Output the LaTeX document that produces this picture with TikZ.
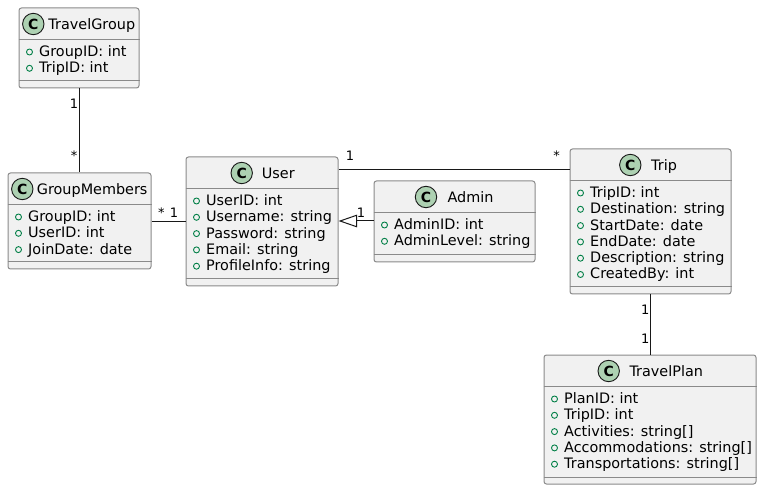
\documentclass[tikz,border=0pt]{standalone}
\usepackage{fontspec}
\setmainfont{DejaVu Sans}
\usetikzlibrary{arrows.meta}
\definecolor{boxfill}{HTML}{F1F1F1}
\definecolor{boxline}{HTML}{8A8A8A}
\definecolor{linecol}{HTML}{181818}
\definecolor{iconfill}{HTML}{ADD1B2}
\definecolor{markcol}{HTML}{038048}
\tikzset{
  clsbox/.style={draw=boxline, fill=boxfill, line width=1pt, rounded corners=2.5pt, inner sep=0pt},
  sepline/.style={draw=boxline, line width=1pt},
  cicon/.style={circle, draw=linecol, fill=iconfill, line width=0.9pt, minimum size=21.4pt, inner sep=0pt, font=\bfseries\fontsize{14}{14}\selectfont},
  clsname/.style={anchor=base west, inner sep=0pt, font=\fontsize{14.4}{16}\selectfont},
  attr/.style={anchor=base west, inner sep=0pt, font=\fontsize{14.4}{16}\selectfont},
  marker/.style={draw=markcol, line width=0.9pt},
  conn/.style={draw=linecol, line width=1pt},
  mult/.style={inner sep=0pt, font=\fontsize{13}{13}\selectfont},
}
% id, left, top, right, bottom, icon x, name left, name, attributes
\newcommand\umlclass[9]{%
  \node[clsbox, anchor=north west, minimum width={#4pt-#2pt}, minimum height={#5pt-#3pt}] (#1) at (#2,#3) {};
  \draw[sepline] ([yshift=-32pt]#1.north west) -- ([yshift=-32pt]#1.north east);
  \draw[sepline] ([yshift=7.5pt]#1.south west) -- ([yshift=7.5pt]#1.south east);
  \node[cicon] (#1-icon) at (#6,{#3+16.5}) {C};
  \node[clsname] (#1-name) at (#7,{#3+22}) {#8};
  \foreach \a [count=\i] in {#9} {%
    \node[attr] (#1-a\i) at ({#2+20.5},{#3+49+16.3*(\i-1)}) {\a};
    \draw[marker] ({#2+11},{#3+44.5+16.3*(\i-1)}) circle (3pt);
  }%
}
\begin{document}
\begin{tikzpicture}[x=1pt, y=-1pt]
\useasboundingbox (0,0) rectangle (761,489);
\umlclass{tg}{18.5}{7.5}{138.5}{87.5}{33.3}{48.3}{TravelGroup}{GroupID: int,TripID: int}
\umlclass{gm}{7.5}{172.5}{150.5}{268.5}{22.3}{36.7}{GroupMembers}{GroupID: int,UserID: int,JoinDate: date}
\umlclass{user}{185.5}{156.5}{337.5}{285.5}{241.7}{261.7}{User}{UserID: int,Username: string,Password: string,Email: string,ProfileInfo: string}
\umlclass{admin}{373.5}{180.5}{534.5}{261.5}{426}{447.3}{Admin}{AdminID: int,AdminLevel: string}
\umlclass{trip}{569.5}{148.5}{730.5}{293.5}{630.3}{651}{Trip}{TripID: int,Destination: string,StartDate: date,EndDate: date,Description: string,CreatedBy: int}
\umlclass{plan}{543.5}{354.5}{755.5}{483.5}{608.7}{629.3}{TravelPlan}{PlanID: int,TripID: int,Activities: string[],Accommodations: string[],Transportations: string[]}

\coordinate (yGU) at (0,221.3);
\coordinate (yUT) at (0,169.3);
\coordinate (yAU) at (0,221);

\draw[conn] (tg.south) -- (tg.south |- gm.north);
\node[mult] (m1) at (74,104) {1};
\node[mult] (m2) at (74,156) {*};

\draw[conn] (gm.east |- yGU) -- (user.west |- yGU);
\node[mult] (m3) at (161.3,213) {*};
\node[mult] (m4) at (174,213) {1};

\draw[conn] (user.east |- yUT) -- (trip.west |- yUT);
\node[mult] (m5) at (350,156) {1};
\node[mult] (m6) at (556.5,156) {*};

\draw[conn, -{Triangle[open, length=18.5pt, width=12.5pt, line width=1pt]}] (admin.west |- yAU) -- (user.east |- yAU);
\node[mult] (m7) at (361,213) {1};

\draw[conn] (trip.south) -- (trip.south |- plan.north);
\node[mult] (m8) at (645.3,310) {1};
\node[mult] (m9) at (645.3,339) {1};
\end{tikzpicture}
\end{document}
